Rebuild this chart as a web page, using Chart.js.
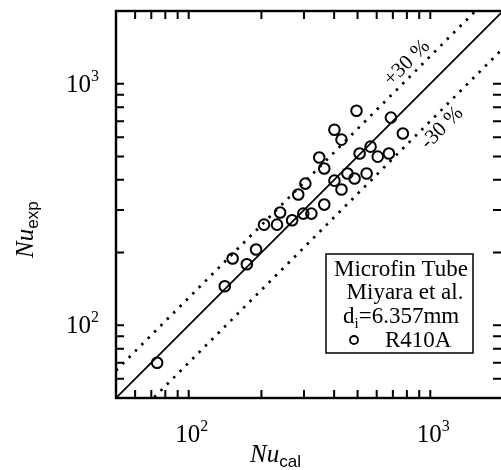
<!DOCTYPE html>
<html>
<head>
<meta charset="utf-8">
<script src="https://cdn.jsdelivr.net/npm/chart.js@4.4.1/dist/chart.umd.min.js"></script>
<style>
  html, body { margin: 0; padding: 0; background: #fff; overflow: hidden; }
</style>
</head>
<body>
<canvas id="myChart" width="503" height="470"></canvas>
<script>
// values
var nuCal = [74, 141, 152, 174, 190, 205, 232, 239, 268, 284, 304, 298, 322, 347, 364,
             364, 401, 429, 401, 429, 454, 486, 510, 545, 566, 606, 674, 495, 687, 770];
var nuExp = [70, 145, 189, 179, 206, 261, 261, 293, 272, 348, 386, 290, 290, 495, 446,
             316, 397, 365, 645, 587, 425, 405, 514, 425, 549, 499, 514, 773, 724, 622];
var seriesName = 'R410A';

// reference lines: Nu_exp = ratio * Nu_cal
var lineEnds = [50, 2000];
var ratios = [1, 1.3, 0.7];
var ratioText = ['+30 %', '-30 %'];

var axisMin = 50, axisMax = 2000;
var minorTicks = [60, 70, 80, 90, 100, 200, 300, 400, 500, 600, 700, 800, 900, 1000];
var labelTicks = [100, 1000];
var labelPowers = ['2', '3'];

var boxLines = ['Microfin Tube', 'Miyara et al.'];
var diameterText = ['d', 'i', '=6.357mm'];

var serif = '"Liberation Serif", "DejaVu Serif", serif';
var sans = '"Liberation Sans", Arial, sans-serif';

function refLine(r) {
  return lineEnds.map(function (v) { return { x: v, y: v * r }; });
}

var points = nuCal.map(function (v, i) { return { x: v, y: nuExp[i] }; });

// frame, inward ticks, labels and the legend box
var decor = {
  id: 'decor',
  afterDraw: function (chart) {
    var ctx = chart.ctx;
    var a = chart.chartArea;
    var xs = chart.scales.x, ys = chart.scales.y;
    ctx.save();
    ctx.strokeStyle = '#000';
    ctx.fillStyle = '#000';

    ctx.lineWidth = 2.4;
    ctx.strokeRect(a.left, a.top, a.right - a.left, a.bottom - a.top);

    ctx.lineWidth = 2;
    var len = 8;
    minorTicks.forEach(function (v) {
      var px = xs.getPixelForValue(v);
      ctx.beginPath();
      ctx.moveTo(px, a.bottom); ctx.lineTo(px, a.bottom - len);
      ctx.moveTo(px, a.top); ctx.lineTo(px, a.top + len);
      ctx.stroke();
      var py = ys.getPixelForValue(v);
      ctx.beginPath();
      ctx.moveTo(a.left, py); ctx.lineTo(a.left + len, py);
      ctx.moveTo(a.right - 2, py); ctx.lineTo(a.right - 2 - len, py);
      ctx.stroke();
    });

    // tick labels 10^n
    labelTicks.forEach(function (v, i) {
      var px = xs.getPixelForValue(v);
      ctx.font = '25px ' + serif;
      ctx.textAlign = 'center';
      ctx.textBaseline = 'alphabetic';
      ctx.fillText('10', px - 1, 442);
      ctx.font = '16px ' + serif;
      ctx.textAlign = 'left';
      ctx.fillText(labelPowers[i], px + 11.5, 431);

      var py = ys.getPixelForValue(v);
      ctx.font = '25px ' + serif;
      ctx.textAlign = 'right';
      ctx.fillText('10', 91, py + 8);
      ctx.font = '16px ' + serif;
      ctx.textAlign = 'left';
      ctx.fillText(labelPowers[i], 91, py - 3);
    });

    // axis titles
    ctx.textAlign = 'left';
    ctx.font = 'italic 25px ' + serif;
    ctx.fillText('Nu', 250, 462);
    var w = ctx.measureText('Nu').width;
    ctx.font = '17px ' + sans;
    ctx.fillText('cal', 250 + w, 467);

    ctx.save();
    ctx.translate(33, 258);
    ctx.rotate(-Math.PI / 2);
    ctx.font = 'italic 25px ' + serif;
    ctx.fillText('Nu', 0, 0);
    w = ctx.measureText('Nu').width;
    ctx.font = '17px ' + sans;
    ctx.fillText('exp', w, 5);
    ctx.restore();

    // +-30 % notes
    ctx.font = '21px ' + serif;
    ctx.textAlign = 'center';
    ctx.textBaseline = 'middle';
    [[407, 63], [442, 128]].forEach(function (p, i) {
      ctx.save();
      ctx.translate(p[0], p[1]);
      ctx.rotate(-Math.PI / 4);
      ctx.fillText(ratioText[i], 0, 0);
      ctx.restore();
    });

    // legend box
    ctx.fillStyle = '#fff';
    ctx.fillRect(326, 254, 147, 99);
    ctx.fillStyle = '#000';
    ctx.lineWidth = 1.5;
    ctx.strokeRect(326, 254, 147, 99);
    ctx.textBaseline = 'alphabetic';
    ctx.font = '23px ' + serif;
    ctx.textAlign = 'center';
    ctx.fillText(boxLines[0], 401, 276);
    ctx.fillText(boxLines[1], 405, 299);
    ctx.textAlign = 'left';
    ctx.fillText(diameterText[0], 343, 323);
    var dx = 343 + ctx.measureText(diameterText[0]).width;
    ctx.font = '15px ' + serif;
    ctx.fillText(diameterText[1], dx, 328);
    dx += ctx.measureText(diameterText[1]).width;
    ctx.font = '23px ' + serif;
    ctx.fillText(diameterText[2], dx, 323);
    ctx.fillText(seriesName, 385, 347);
    ctx.lineWidth = 1.8;
    ctx.beginPath();
    ctx.arc(354, 340, 4, 0, Math.PI * 2);
    ctx.stroke();
    ctx.restore();
  }
};

new Chart('myChart', {
  type: 'scatter',
  data: {
    datasets: [
      {
        label: seriesName,
        data: points,
        pointRadius: 5.3,
        pointBorderWidth: 2,
        pointBorderColor: '#000',
        pointBackgroundColor: 'rgba(0,0,0,0)',
        order: 0
      },
      {
        label: '1:1',
        data: refLine(ratios[0]),
        showLine: true,
        borderColor: '#000',
        borderWidth: 1.8,
        pointRadius: 0,
        order: 1
      },
      {
        label: '+30%',
        data: refLine(ratios[1]),
        showLine: true,
        borderColor: '#000',
        borderWidth: 2.7,
        borderDash: [2.5, 6.5],
        pointRadius: 0,
        order: 1
      },
      {
        label: '-30%',
        data: refLine(ratios[2]),
        showLine: true,
        borderColor: '#000',
        borderWidth: 2.7,
        borderDash: [2.5, 6.5],
        pointRadius: 0,
        order: 1
      }
    ]
  },
  options: {
    responsive: false,
    animation: false,
    layout: { autoPadding: false, padding: { left: 116, top: 11, right: 0, bottom: 72 } },
    plugins: { legend: { display: false }, tooltip: { enabled: false } },
    scales: {
      x: { type: 'logarithmic', min: axisMin, max: axisMax, display: false },
      y: { type: 'logarithmic', min: axisMin, max: axisMax, display: false }
    }
  },
  plugins: [decor]
});
</script>
</body>
</html>
